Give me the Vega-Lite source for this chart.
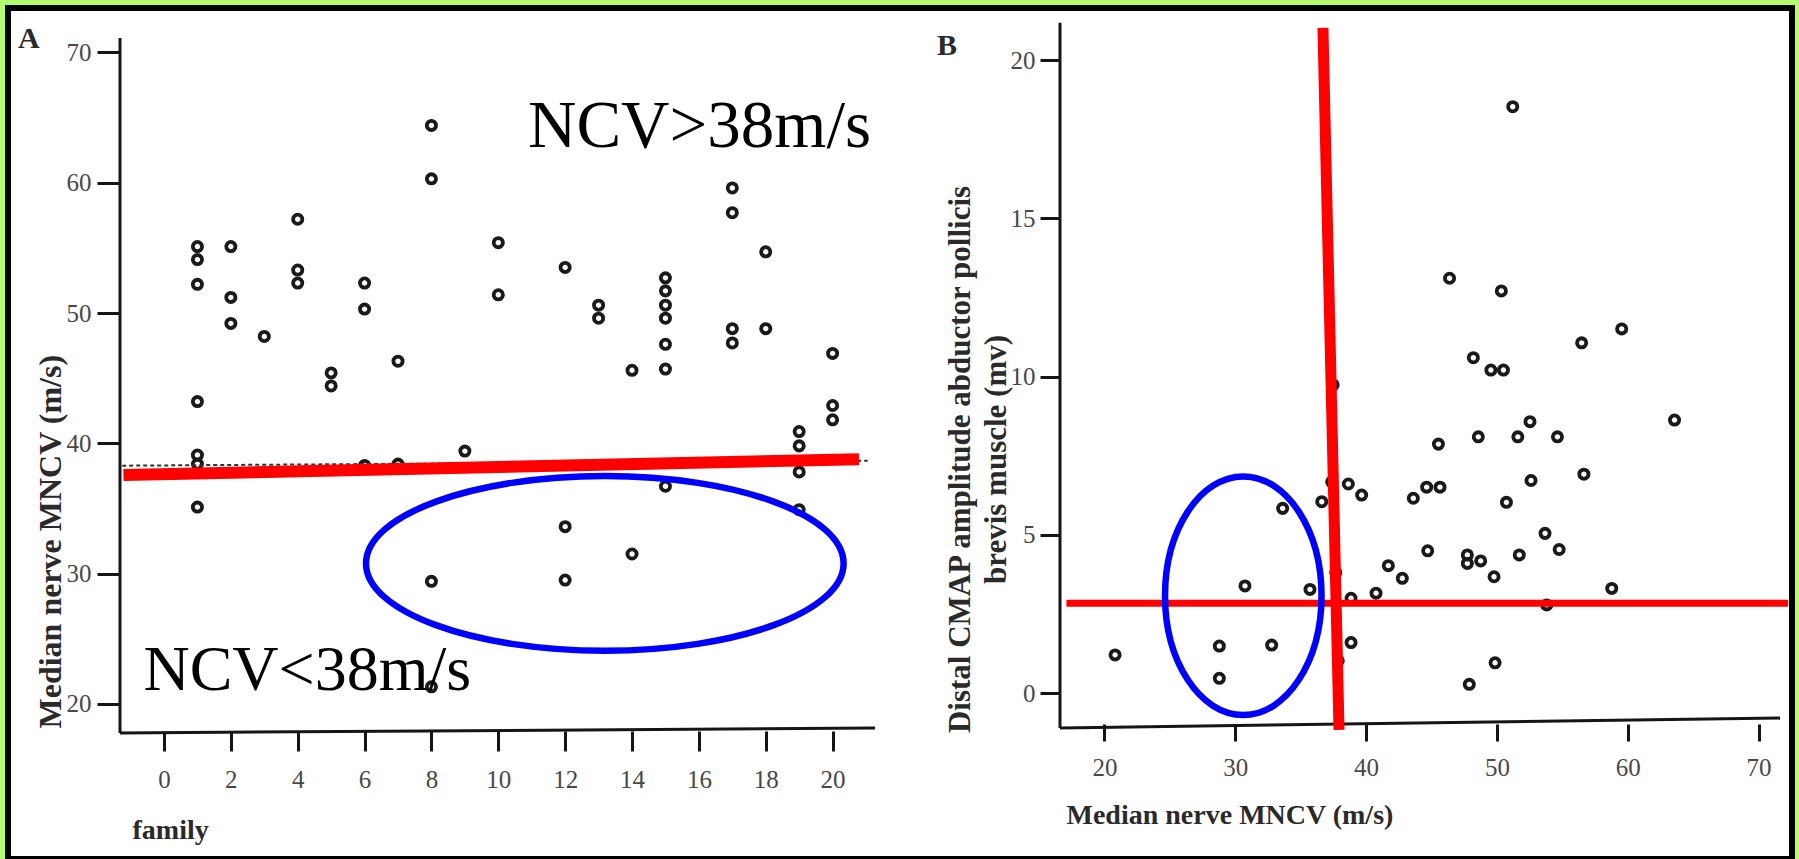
{
  "$schema": "https://vega.github.io/schema/vega-lite/v6.json",
  "width": 1784,
  "height": 851,
  "autosize": {"type": "none"},
  "padding": {"left": 8, "top": 8, "right": 7, "bottom": 0},
  "background": "#b3fb6f",
  "config": {
    "view": {"fill": "white", "stroke": "black", "strokeWidth": 6},
    "axis": {
      "grid": false, "domain": false,
      "labelFont": "Liberation Serif", "titleFont": "Liberation Serif",
      "labelColor": "#484848", "titleColor": "#2a2a2a", "titleFontWeight": "bold",
      "tickColor": "#151515", "tickWidth": 3, "labelOverlap": false, "labelFlush": false
    }
  },
  "datasets": {
    "ptsA": [
      {"family": 1, "mncv": 55.1}, {"family": 1, "mncv": 54.1}, {"family": 1, "mncv": 52.2}, {"family": 1, "mncv": 43.2}, {"family": 1, "mncv": 39.1}, {"family": 1, "mncv": 38.4}, {"family": 1, "mncv": 35.1},
      {"family": 2, "mncv": 55.1}, {"family": 2, "mncv": 51.2}, {"family": 2, "mncv": 49.2},
      {"family": 3, "mncv": 48.2},
      {"family": 4, "mncv": 57.2}, {"family": 4, "mncv": 53.3}, {"family": 4, "mncv": 52.3},
      {"family": 5, "mncv": 45.4}, {"family": 5, "mncv": 44.4},
      {"family": 6, "mncv": 52.3}, {"family": 6, "mncv": 50.3}, {"family": 6, "mncv": 38.3},
      {"family": 7, "mncv": 46.3}, {"family": 7, "mncv": 38.4},
      {"family": 8, "mncv": 64.4}, {"family": 8, "mncv": 60.3}, {"family": 8, "mncv": 29.4}, {"family": 8, "mncv": 21.3},
      {"family": 9, "mncv": 39.4},
      {"family": 10, "mncv": 55.4}, {"family": 10, "mncv": 51.4},
      {"family": 12, "mncv": 53.5}, {"family": 12, "mncv": 33.6}, {"family": 12, "mncv": 29.5},
      {"family": 13, "mncv": 50.6}, {"family": 13, "mncv": 49.6},
      {"family": 14, "mncv": 45.6}, {"family": 14, "mncv": 31.5},
      {"family": 15, "mncv": 52.7}, {"family": 15, "mncv": 51.7}, {"family": 15, "mncv": 50.6}, {"family": 15, "mncv": 49.6}, {"family": 15, "mncv": 47.6}, {"family": 15, "mncv": 45.7}, {"family": 15, "mncv": 36.7},
      {"family": 17, "mncv": 59.6}, {"family": 17, "mncv": 57.7}, {"family": 17, "mncv": 48.8}, {"family": 17, "mncv": 47.7},
      {"family": 18, "mncv": 54.7}, {"family": 18, "mncv": 48.8},
      {"family": 19, "mncv": 40.9}, {"family": 19, "mncv": 39.8}, {"family": 19, "mncv": 37.8}, {"family": 19, "mncv": 34.9},
      {"family": 20, "mncv": 46.9}, {"family": 20, "mncv": 42.9}, {"family": 20, "mncv": 41.8}
    ],
    "ptsB": [
      {"mncv": 51.21, "cmap": 18.53}, {"mncv": 46.38, "cmap": 13.11}, {"mncv": 50.34, "cmap": 12.71},
      {"mncv": 59.54, "cmap": 11.51}, {"mncv": 56.48, "cmap": 11.07}, {"mncv": 48.2, "cmap": 10.6},
      {"mncv": 49.54, "cmap": 10.21}, {"mncv": 50.5, "cmap": 10.21}, {"mncv": 37.48, "cmap": 9.74},
      {"mncv": 52.53, "cmap": 8.58}, {"mncv": 63.58, "cmap": 8.63}, {"mncv": 48.58, "cmap": 8.1},
      {"mncv": 51.6, "cmap": 8.1}, {"mncv": 54.63, "cmap": 8.1}, {"mncv": 45.53, "cmap": 7.87},
      {"mncv": 56.65, "cmap": 6.92}, {"mncv": 52.61, "cmap": 6.72}, {"mncv": 50.73, "cmap": 6.03},
      {"mncv": 38.64, "cmap": 6.61}, {"mncv": 39.66, "cmap": 6.26}, {"mncv": 37.37, "cmap": 6.68},
      {"mncv": 36.61, "cmap": 6.05}, {"mncv": 33.62, "cmap": 5.84}, {"mncv": 43.61, "cmap": 6.16},
      {"mncv": 44.63, "cmap": 6.51}, {"mncv": 45.65, "cmap": 6.51}, {"mncv": 53.68, "cmap": 5.05},
      {"mncv": 54.76, "cmap": 4.54}, {"mncv": 44.71, "cmap": 4.5}, {"mncv": 47.74, "cmap": 4.37},
      {"mncv": 47.74, "cmap": 4.1}, {"mncv": 48.76, "cmap": 4.18}, {"mncv": 51.71, "cmap": 4.37},
      {"mncv": 41.7, "cmap": 4.03}, {"mncv": 42.77, "cmap": 3.63}, {"mncv": 37.68, "cmap": 3.81},
      {"mncv": 49.78, "cmap": 3.68}, {"mncv": 58.78, "cmap": 3.31}, {"mncv": 30.74, "cmap": 3.39},
      {"mncv": 35.71, "cmap": 3.28}, {"mncv": 38.85, "cmap": 3.0}, {"mncv": 40.76, "cmap": 3.16},
      {"mncv": 53.81, "cmap": 2.79}, {"mncv": 38.85, "cmap": 1.6}, {"mncv": 28.78, "cmap": 1.49},
      {"mncv": 32.78, "cmap": 1.52}, {"mncv": 20.81, "cmap": 1.21}, {"mncv": 37.87, "cmap": 1.02},
      {"mncv": 49.86, "cmap": 0.96}, {"mncv": 28.78, "cmap": 0.47}, {"mncv": 47.89, "cmap": 0.28}
    ]
  },
  "resolve": {
    "scale": {"x": "independent", "y": "independent"},
    "axis": {"x": "independent", "y": "independent"}
  },
  "layer": [
    {
      "layer": [
        {
          "data": {"name": "ptsA"},
          "mark": {"type": "point", "shape": "circle", "size": 85, "filled": false, "color": "#1a1a1a", "strokeWidth": 3.8, "opacity": 1},
          "encoding": {
            "x": {
              "field": "family", "type": "quantitative",
              "scale": {"domain": [-4.6665, 48.699], "nice": false, "zero": false},
              "axis": {
                "orient": "bottom", "offset": -128, "values": [0, 2, 4, 6, 8, 10, 12, 14, 16, 18, 20],
                "tickSize": 20, "labelPadding": 16, "labelFontSize": 25,
                "title": "family", "titleFontSize": 28, "titleAlign": "left", "titleBaseline": "alphabetic",
                "titleX": 124, "titleY": 107
              }
            },
            "y": {
              "field": "mncv", "type": "quantitative",
              "scale": {"domain": [8.085, 73.416], "nice": false, "zero": false},
              "axis": {
                "orient": "left", "offset": -112, "values": [20, 30, 40, 50, 60, 70],
                "tickSize": 23, "labelPadding": 6, "labelFontSize": 25,
                "title": "Median nerve MNCV (m/s)", "titleFontSize": 32, "titleAngle": 270,
                "titleAlign": "left", "titleBaseline": "alphabetic", "titleX": -60, "titleY": 720
              }
            }
          }
        },
        {
          "data": {"values": [
            {"xa": -1.316, "ya": 71.11, "xb": -1.316, "yb": 17.76},
            {"xa": -1.316, "ya": 17.76, "xb": 21.27, "yb": 18.14}
          ]},
          "mark": {"type": "rule", "color": "#151515", "strokeWidth": 3},
          "encoding": {
            "x": {"field": "xa", "type": "quantitative"},
            "y": {"field": "ya", "type": "quantitative"},
            "x2": {"field": "xb"},
            "y2": {"field": "yb"}
          }
        },
        {
          "data": {"values": [{"xa": -1.25, "ya": 38.28, "xb": 21.05, "yb": 38.66}]},
          "mark": {"type": "rule", "color": "#333333", "strokeWidth": 2, "strokeDash": [4, 3]},
          "encoding": {
            "x": {"field": "xa", "type": "quantitative"},
            "y": {"field": "ya", "type": "quantitative"},
            "x2": {"field": "xb"},
            "y2": {"field": "yb"}
          }
        },
        {
          "data": {"values": [{"xa": -1.214, "ya": 37.565, "xb": 20.79, "yb": 38.77}]},
          "mark": {"type": "rule", "color": "#ff0000", "strokeWidth": 12},
          "encoding": {
            "x": {"field": "xa", "type": "quantitative"},
            "y": {"field": "ya", "type": "quantitative"},
            "x2": {"field": "xb"},
            "y2": {"field": "yb"}
          }
        },
        {
          "data": {"values": [{"cx": 13.186, "cy": 30.78}]},
          "mark": {
            "type": "point",
            "shape": "M 1 0 C 1 0.2021 0.5523 0.366 0 0.366 C -0.5523 0.366 -1 0.2021 -1 0 C -1 -0.2021 -0.5523 -0.366 0 -0.366 C 0.5523 -0.366 1 -0.2021 1 0 Z",
            "size": 228102, "filled": false, "color": "#0000ff", "strokeWidth": 6.5, "opacity": 1
          },
          "encoding": {
            "x": {"field": "cx", "type": "quantitative"},
            "y": {"field": "cy", "type": "quantitative"}
          }
        },
        {
          "data": {"values": [{"tx": 10.889, "ty": 62.77, "label": "NCV>38m/s"}]},
          "mark": {"type": "text", "font": "Liberation Serif", "fontSize": 67, "align": "left", "baseline": "alphabetic", "color": "#000000"},
          "encoding": {
            "x": {"field": "tx", "type": "quantitative"},
            "y": {"field": "ty", "type": "quantitative"},
            "text": {"field": "label"}
          }
        },
        {
          "data": {"values": [{"tx": -0.616, "ty": 21.06, "label": "NCV<38m/s"}]},
          "mark": {"type": "text", "font": "Liberation Serif", "fontSize": 64, "align": "left", "baseline": "alphabetic", "color": "#000000"},
          "encoding": {
            "x": {"field": "tx", "type": "quantitative"},
            "y": {"field": "ty", "type": "quantitative"},
            "text": {"field": "label"}
          }
        },
        {
          "data": {"values": [{"tx": -4.367, "ty": 70.345, "label": "A"}]},
          "mark": {"type": "text", "font": "Liberation Serif", "fontSize": 30, "fontWeight": "bold", "align": "left", "baseline": "alphabetic", "color": "#2a2a2a"},
          "encoding": {
            "x": {"field": "tx", "type": "quantitative"},
            "y": {"field": "ty", "type": "quantitative"},
            "text": {"field": "label"}
          }
        }
      ]
    },
    {
      "layer": [
        {
          "data": {"name": "ptsB"},
          "mark": {"type": "point", "shape": "circle", "size": 85, "filled": false, "color": "#1a1a1a", "strokeWidth": 3.8, "opacity": 1},
          "encoding": {
            "x": {
              "field": "mncv", "type": "quantitative",
              "scale": {"domain": [-63.83, 72.561], "nice": false, "zero": false},
              "axis": {
                "orient": "bottom", "offset": -135, "values": [20, 30, 40, 50, 60, 70],
                "tickSize": 17, "labelPadding": 14, "labelFontSize": 25,
                "title": "Median nerve MNCV (m/s)", "titleFontSize": 28, "titleAlign": "left", "titleBaseline": "alphabetic",
                "titleX": 1058, "titleY": 99
              }
            },
            "y": {
              "field": "cmap", "type": "quantitative",
              "scale": {"domain": [-5.2385, 21.6493], "nice": false, "zero": false},
              "axis": {
                "orient": "left", "offset": -1052, "values": [0, 5, 10, 15, 20],
                "tickSize": 20, "labelPadding": 5, "labelFontSize": 25,
                "title": ["Distal CMAP amplitude abductor pollicis", "brevis muscle (mv)"],
                "titleFontSize": 31, "titleAngle": 270, "titleAlign": "center", "titleBaseline": "bottom",
                "titleLineHeight": 36, "titleX": -84, "titleY": 451
              }
            }
          }
        },
        {
          "data": {"values": [
            {"xa": 16.598, "ya": 21.18, "xb": 16.598, "yb": -1.1},
            {"xa": 16.598, "ya": -1.1, "xb": 71.64, "yb": -0.783}
          ]},
          "mark": {"type": "rule", "color": "#151515", "strokeWidth": 3},
          "encoding": {
            "x": {"field": "xa", "type": "quantitative"},
            "y": {"field": "ya", "type": "quantitative"},
            "x2": {"field": "xb"},
            "y2": {"field": "yb"}
          }
        },
        {
          "data": {"values": [{"xa": 36.7, "ya": 21.02, "xb": 37.93, "yb": -1.16}]},
          "mark": {"type": "rule", "color": "#ff0000", "strokeWidth": 11},
          "encoding": {
            "x": {"field": "xa", "type": "quantitative"},
            "y": {"field": "ya", "type": "quantitative"},
            "x2": {"field": "xb"},
            "y2": {"field": "yb"}
          }
        },
        {
          "data": {"values": [{"xa": 17.09, "ya": 2.84, "xb": 72.26, "yb": 2.84}]},
          "mark": {"type": "rule", "color": "#ff0000", "strokeWidth": 7},
          "encoding": {
            "x": {"field": "xa", "type": "quantitative"},
            "y": {"field": "ya", "type": "quantitative"},
            "x2": {"field": "xb"},
            "y2": {"field": "yb"}
          }
        },
        {
          "data": {"values": [{"cx": 30.61, "cy": 3.08}]},
          "mark": {
            "type": "point",
            "shape": "M 0.656 0 C 0.656 0.5523 0.3623 1 0 1 C -0.3623 1 -0.656 0.5523 -0.656 0 C -0.656 -0.5523 -0.3623 -1 0 -1 C 0.3623 -1 0.656 -0.5523 0.656 0 Z",
            "size": 56930, "filled": false, "color": "#0000ff", "strokeWidth": 6.5, "opacity": 1
          },
          "encoding": {
            "x": {"field": "cx", "type": "quantitative"},
            "y": {"field": "cy", "type": "quantitative"}
          }
        },
        {
          "data": {"values": [{"tx": 7.19, "ty": 20.16, "label": "B"}]},
          "mark": {"type": "text", "font": "Liberation Serif", "fontSize": 30, "fontWeight": "bold", "align": "left", "baseline": "alphabetic", "color": "#2a2a2a"},
          "encoding": {
            "x": {"field": "tx", "type": "quantitative"},
            "y": {"field": "ty", "type": "quantitative"},
            "text": {"field": "label"}
          }
        }
      ]
    }
  ]
}
